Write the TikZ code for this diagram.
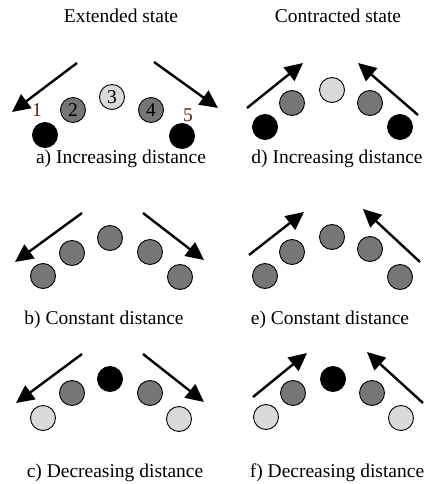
\documentclass[tikz,border=0pt]{standalone}
\usepackage{fontspec}
\setmainfont{Liberation Serif}
\usepackage{xcolor}
\usepackage{tikz}
\usetikzlibrary{arrows.meta}
\definecolor{balldark}{RGB}{118,118,118}
\definecolor{balllight}{RGB}{218,218,218}
\definecolor{labelbrown}{RGB}{85,35,25}

\tikzset{
    ball/.style={circle,draw=black,line width=0.9pt,minimum size=25pt,inner sep=0pt},
    blackball/.style={ball,fill=black},
    darkball/.style={ball,fill=balldark},
    lightball/.style={ball,fill=balllight},
    move/.style={line width=2.4pt,-{Triangle[length=18pt,width=17pt]}},
    caption/.style={anchor=base,inner sep=0pt},
}

\begin{document}
\begin{tikzpicture}[x=1pt,y=-1pt,font=\fontsize{19.5}{23}\selectfont]
    \useasboundingbox (0,0) rectangle (425,484);
    \node[caption] (ext) at (121,23) {Extended state};
    \node[caption] (con) at (338,23) {Contracted state};
    % a) extended, numbered robots
    \node[blackball] (a1) at (45,135) {};
    \node[darkball] (a2) at (73,110) {2};
    \node[lightball] (a3) at (112,97) {3};
    \node[darkball] (a4) at (151,110) {4};
    \node[blackball] (a5) at (182,136) {};
    \node[text=labelbrown] (n1) at (37,110) {1};
    \node[text=labelbrown] (n5) at (188,115) {5};
    \foreach \n/\x/\y/\s in {b1/43/276/darkball, b2/72/253/darkball, b3/110/238/darkball,
        b4/150/252/darkball, b5/180/277/darkball,
        c1/43/418/lightball, c2/72/393/darkball, c3/110/379/blackball,
        c4/150/393/darkball, c5/179/419/lightball,
        d1/265/127/blackball, d2/292/103/darkball, d3/332/90/lightball,
        d4/370/103/darkball, d5/400/127/blackball,
        e1/265/276/darkball, e2/292/252/darkball, e3/332/237/darkball,
        e4/370/249/darkball, e5/400/277/darkball,
        f1/266/417/lightball, f2/293/393/darkball, f3/333/379/blackball,
        f4/372/393/darkball, f5/401/418/lightball}
        \node[\s] (\n) at (\x,\y) {};
    % arrow ends
    \foreach \n/\x/\y in {aL0/77/63, aL1/12/112, aR0/154/62, aR1/218/108,
        bL0/82/213, bL1/15/262, bR0/143/213, bR1/204/260,
        cL0/82/354, cL1/16/403, cR0/143/354, cR1/204/402,
        dL0/247/108, dL1/303/63, dR0/418/115, dR1/358/63,
        eL0/249/255, eL1/304/212, eR0/420/262, eR1/363/209,
        fL0/253/397, fL1/307/353, fR0/423/403, fR1/367/352}
        \coordinate (\n) at (\x,\y);
    \foreach \p in {a,b,c,d,e,f} {
        \draw[move] (\p L0) -- (\p L1);
        \draw[move] (\p R0) -- (\p R1);
    }
    \node[caption] (capa) at (121,163) {a) Increasing distance};
    \node[caption] (capd) at (337,163) {d) Increasing distance};
    \node[caption] (capb) at (104,324) {b) Constant distance};
    \node[caption] (cape) at (330,324) {e) Constant distance};
    \node[caption] (capc) at (115,477) {c) Decreasing distance};
    \node[caption] (capf) at (337,477) {f) Decreasing distance};
\end{tikzpicture}
\end{document}
